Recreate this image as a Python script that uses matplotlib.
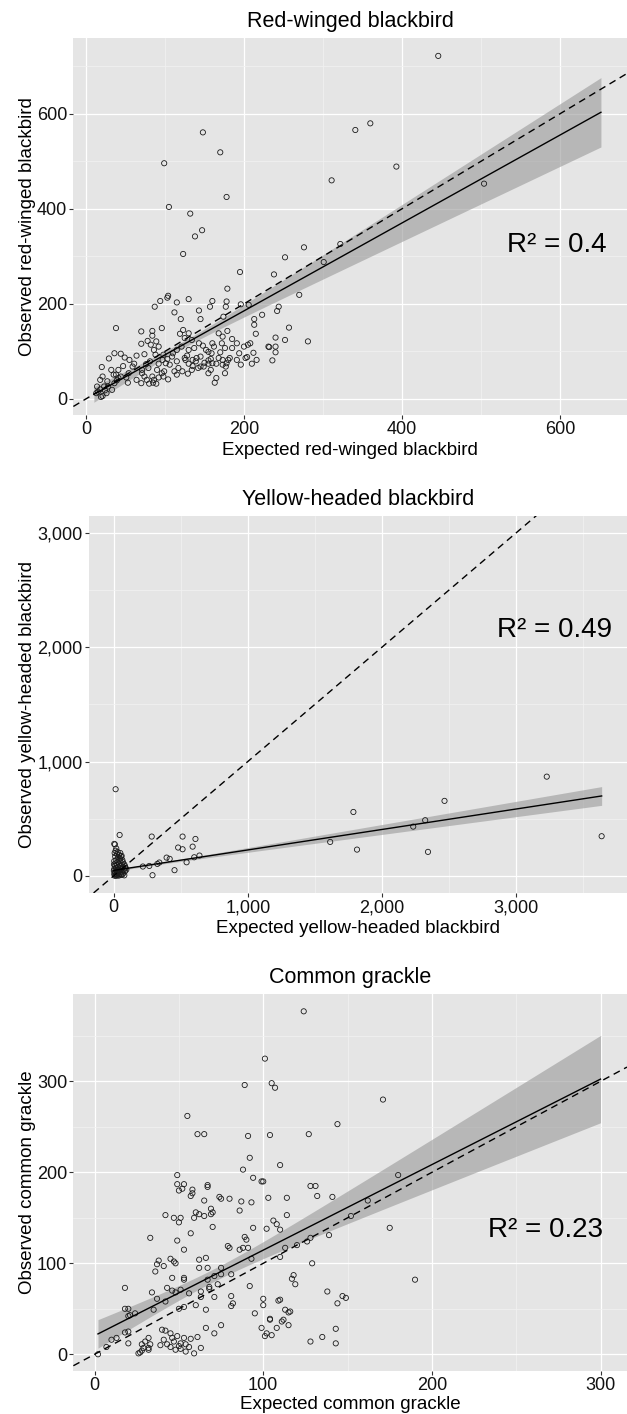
import numpy as np
import matplotlib
matplotlib.use('Agg')
import matplotlib.pyplot as plt
from matplotlib.ticker import MultipleLocator, FuncFormatter

plt.rcParams['font.family'] = ['Liberation Sans', 'DejaVu Sans']

# --- data (expected, observed) ---
rwbl_points = [
    (446, 722), (360, 580), (341, 566), (393, 489), (504, 453), (311, 460),
    (148, 561), (170, 519), (99, 496), (178, 425), (105, 404), (132, 390),
    (147, 355), (138, 342), (123, 305), (276, 319), (322, 326), (252, 298),
    (301, 288), (195, 267), (238, 262), (179, 232), (38, 149), (270, 219),
    (244, 194), (242, 185), (223, 177), (213, 156), (257, 150), (281, 121),
    (252, 124), (240, 129), (240, 110), (232, 109), (236, 81), (213, 168),
    (215, 137), (216, 82), (212, 97), (210, 74), (196, 72), (202, 86),
    (204, 88), (200, 110), (185, 126), (179, 143), (177, 68), (170, 98),
    (196, 199), (206, 198), (174, 173), (178, 205), (177, 194), (160, 206),
    (157, 194), (145, 168), (143, 186), (130, 210), (115, 203), (104, 217),
    (103, 213), (94, 206), (87, 194), (112, 182), (120, 168), (96, 149),
    (84, 143), (70, 142), (84, 133), (20, 67), (29, 85), (36, 96),
    (44, 95), (49, 87), (55, 82), (47, 69), (32, 61), (38, 51),
    (41, 44), (70, 33), (85, 34), (89, 32), (163, 34), (165, 44),
    (176, 54), (178, 75), (145, 68), (142, 65), (130, 74), (135, 82),
    (155, 81), (159, 96), (160, 117), (155, 99), (152, 103), (149, 68),
    (137, 107), (148, 112), (128, 91), (125, 86), (117, 65), (112, 58),
    (104, 41), (96, 54), (103, 84), (98, 93), (92, 110), (89, 121),
    (86, 103), (74, 94), (81, 79), (79, 65), (71, 54), (70, 116),
    (76, 73), (84, 47), (92, 45), (99, 58), (106, 72), (110, 96),
    (115, 103), (121, 110), (125, 128), (130, 138), (123, 145), (119, 137),
    (130, 103), (134, 124), (126, 82), (140, 86), (115, 79), (109, 89),
    (101, 75), (97, 82), (92, 74), (88, 93), (82, 114), (78, 122),
    (64, 91), (61, 74), (59, 68), (54, 54), (44, 47), (27, 37),
    (23, 26), (18, 20), (15, 15), (13, 12), (21, 6), (19, 4),
    (24, 18), (26, 12), (33, 19), (36, 33), (39, 39), (51, 45),
    (53, 34), (18, 40), (21, 47), (14, 26), (28, 26), (64, 40),
    (74, 47), (35, 51), (41, 61), (155, 54), (158, 61), (168, 86),
    (173, 82), (182, 86), (185, 107), (194, 96), (191, 82), (205, 114),
    (208, 117), (231, 110), (240, 98), (176, 107), (191, 117), (143, 117),
    (139, 79), (145, 89), (150, 76), (155, 74), (158, 84), (160, 75),
    (165, 74), (173, 72), (180, 82), (162, 110), (172, 117), (173, 131),
    (168, 138), (129, 53), (134, 61), (135, 69), (122, 58), (115, 51),
    (98, 47), (90, 61), (86, 40), (80, 32), (77, 40), (71, 61),
]

yhbl_points = [
    (3228, 868), (2466, 656), (1787, 559), (2322, 487), (2233, 431),
    (1614, 297), (1814, 230), (2343, 210), (3637, 347), (15, 758),
    (45, 358), (284, 344), (514, 344), (610, 323), (589, 256), (481, 248),
    (514, 233), (601, 163), (640, 178), (395, 160), (418, 149), (341, 117),
    (326, 105), (218, 82), (266, 87), (454, 50), (544, 119), (290, 6),
    (5, 280), (10, 275), (20, 240), (15, 220), (30, 210), (8, 200),
    (25, 190), (40, 185), (55, 170), (12, 170), (35, 160), (50, 150),
    (65, 140), (20, 140), (45, 130), (5, 130), (70, 120), (30, 120),
    (60, 110), (15, 110), (40, 100), (80, 100), (25, 95), (55, 90),
    (10, 90), (35, 80), (70, 80), (90, 70), (20, 70), (45, 65),
    (60, 60), (5, 60), (30, 55), (75, 50), (15, 50), (50, 45),
    (40, 40), (85, 40), (25, 35), (10, 30), (60, 30), (35, 25),
    (70, 20), (20, 20), (5, 15), (45, 15), (30, 10), (55, 8),
    (15, 5), (80, 5), (40, 3), (25, 2), (10, 1), (65, 12),
    (2, 45), (3, 100), (50, 200), (60, 175), (85, 85), (95, 55),
]

cogr_points = [
    (124, 377), (101, 325), (89, 296), (105, 298), (107, 293), (171, 280),
    (55, 262), (144, 253), (61, 242), (65, 242), (91, 240), (104, 241),
    (127, 242), (92, 216), (110, 208), (180, 197), (88, 203), (49, 197),
    (99, 190), (100, 190), (94, 194), (49, 187), (53, 187), (52, 182),
    (50, 180), (58, 181), (58, 177), (57, 174), (67, 184), (67, 186),
    (65, 169), (74, 173), (75, 171), (80, 171), (103, 172), (114, 172),
    (128, 185), (131, 185), (132, 174), (141, 173), (162, 169), (86, 158),
    (69, 160), (42, 153), (47, 150), (51, 150), (50, 145), (59, 150),
    (60, 156), (62, 154), (65, 152), (69, 154), (70, 156), (93, 167),
    (87, 168), (114, 153), (106, 147), (108, 143), (110, 137), (102, 138),
    (94, 139), (57, 133), (70, 140), (33, 128), (49, 125), (89, 129),
    (90, 126), (91, 117), (86, 115), (88, 117), (79, 119), (80, 117),
    (53, 115), (113, 117), (120, 120), (126, 124), (128, 128), (139, 131),
    (152, 152), (175, 139), (110, 107), (93, 105), (66, 106), (62, 104),
    (62, 95), (67, 95), (75, 95), (81, 88), (75, 88), (71, 86),
    (45, 105), (47, 102), (48, 100), (38, 103), (37, 99), (36, 91),
    (41, 97), (46, 84), (53, 84), (67, 82), (68, 72), (68, 74),
    (46, 70), (43, 73), (48, 68), (34, 68), (37, 61), (51, 71),
    (56, 67), (63, 69), (73, 77), (71, 63), (81, 64), (82, 56),
    (81, 53), (18, 73), (18, 50), (20, 50), (24, 45), (21, 43),
    (35, 49), (50, 50), (53, 52), (60, 54), (63, 63), (66, 49),
    (92, 75), (118, 87), (119, 77), (117, 83), (129, 100), (138, 69),
    (147, 64), (149, 62), (144, 56), (109, 59), (110, 60), (100, 61),
    (100, 54), (113, 49), (115, 46), (116, 47), (95, 45), (104, 39),
    (104, 38), (112, 38), (108, 29), (115, 32), (111, 36), (99, 29),
    (102, 23), (101, 20), (105, 21), (143, 28), (135, 19), (128, 14),
    (143, 12), (190, 82), (75, 32), (71, 23), (66, 29), (61, 19),
    (63, 7), (59, 1), (54, 3), (53, 18), (51, 12), (49, 20),
    (46, 18), (47, 14), (50, 9), (48, 5), (45, 8), (43, 11),
    (40, 27), (39, 10), (41, 16), (51, 6), (54, 11), (57, 17),
    (56, 8), (32, 18), (30, 14), (33, 11), (28, 11), (32, 5),
    (28, 4), (26, 1), (27, 2), (29, 7), (32, 7), (20, 25),
    (18, 24), (20, 12), (13, 18), (10, 16), (7, 8), (2, 0),
    (20, 42), (42, 58), (42, 26), (45, 23), (53, 82),
]

# regression fits: [intercept, slope], x range of fit, band [x centre, half-width at centre, half-width at x max]
rwbl_fit = [0.2, 0.925]
rwbl_xrange = [10, 652]
rwbl_band = [120, 7, 73]

yhbl_fit = [48, 0.179]
yhbl_xrange = [0, 3637]
yhbl_band = [200, 8, 82]

cogr_fit = [20.5, 0.94]
cogr_xrange = [2, 300]
cogr_band = [70, 7, 48]

r2_values = ['0.4', '0.49', '0.23']


def comma(v, pos):
    return f'{v:,.0f}'


def panel(ax, points, fit, xrange_, band, title, xlabel, ylabel,
          xlim, ylim, step, r2, r2_pos, ylab_x, xlab_y):
    ax.set_facecolor('#E5E5E5')
    for s in ax.spines.values():
        s.set_visible(False)

    xs = np.array([p[0] for p in points])
    ys = np.array([p[1] for p in points])

    # confidence band + fitted line
    gx = np.linspace(xrange_[0], xrange_[1], 120)
    gy = fit[0] + fit[1] * gx
    xc, w0, w1 = band
    half = np.sqrt(w0 ** 2 + (w1 ** 2 - w0 ** 2) * ((gx - xc) / (xrange_[1] - xc)) ** 2)
    ax.fill_between(gx, gy - half, gy + half, color='#999999', alpha=0.6,
                    lw=0, zorder=2)

    ax.scatter(xs, ys, s=14, facecolors='none', edgecolors='#1a1a1a',
               linewidths=0.6, zorder=3)
    ax.plot(gx, gy, color='black', lw=1.0, zorder=4)
    ax.axline((0, 0), slope=1, color='black', lw=1.0, ls=(0, (5, 3.5)), zorder=4)

    ax.set_xlim(*xlim)
    ax.set_ylim(*ylim)
    ax.xaxis.set_major_locator(MultipleLocator(step))
    ax.yaxis.set_major_locator(MultipleLocator(step))
    ax.xaxis.set_minor_locator(MultipleLocator(step / 2))
    ax.yaxis.set_minor_locator(MultipleLocator(step / 2))
    ax.xaxis.set_major_formatter(FuncFormatter(comma))
    ax.yaxis.set_major_formatter(FuncFormatter(comma))
    ax.grid(True, which='major', color='white', lw=0.9, zorder=0)
    ax.grid(True, which='minor', color='#F2F2F2', lw=0.5, zorder=0)
    ax.set_axisbelow(True)
    ax.tick_params(which='major', length=3, width=0.8, color='#333333',
                   labelsize=13, labelcolor='#111111', pad=1.5)
    ax.tick_params(which='minor', length=0)

    ax.set_title(title, fontsize=15.5, pad=8)
    ax.set_xlabel(xlabel, fontsize=13.5)
    ax.set_ylabel(ylabel, fontsize=13.5)
    ax.xaxis.set_label_coords(0.5, xlab_y)
    ax.yaxis.set_label_coords(ylab_x, 0.5)

    ax.text(r2_pos[0], r2_pos[1], f'R\u00b2 = {r2}', fontsize=20,
            ha='right', va='center', zorder=5)


fig = plt.figure(figsize=(6.27, 14.14), dpi=100)
ax1 = fig.add_axes([0.117, 0.7065, 0.883, 0.2664])
ax2 = fig.add_axes([0.142, 0.3685, 0.858, 0.2668])
ax3 = fig.add_axes([0.117, 0.0304, 0.883, 0.2666])

panel(ax1, rwbl_points, rwbl_fit, rwbl_xrange, rwbl_band,
      'Red-winged blackbird', 'Expected red-winged blackbird',
      'Observed red-winged blackbird', (-16, 685), (-34, 759), 200,
      r2_values[0], (659, 324), -0.068, -0.071)
panel(ax2, yhbl_points, yhbl_fit, yhbl_xrange, yhbl_band,
      'Yellow-headed blackbird', 'Expected yellow-headed blackbird',
      'Observed yellow-headed blackbird', (-183, 3826), (-149, 3150), 1000,
      r2_values[1], (3718, 2150), -0.099, -0.071)
panel(ax3, cogr_points, cogr_fit, cogr_xrange, cogr_band,
      'Common grackle', 'Expected common grackle',
      'Observed common grackle', (-12.6, 315.7), (-18.4, 396), 100,
      r2_values[2], (301.5, 137), -0.068, -0.067)

fig.savefig('out.png', dpi=100)
